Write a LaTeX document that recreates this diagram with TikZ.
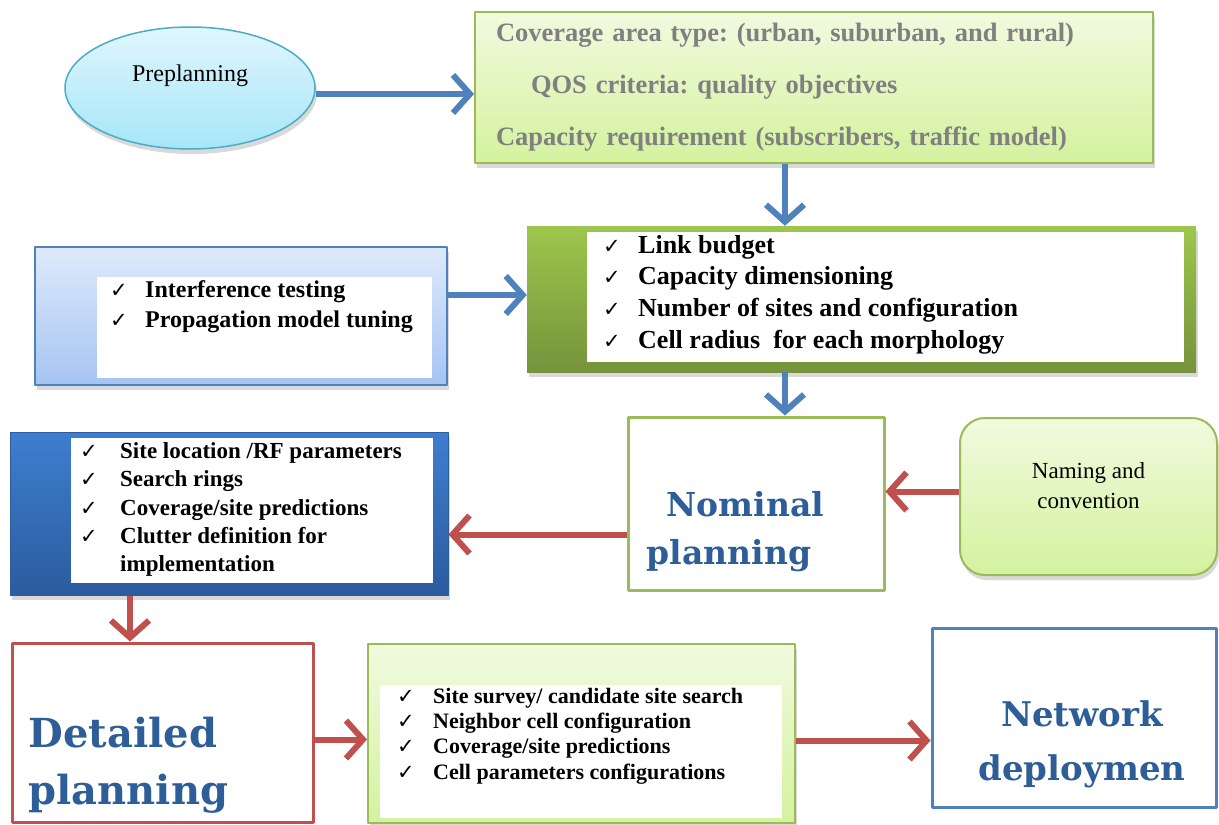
\documentclass[tikz,border=0pt]{standalone}
\usepackage{fontspec}
\setmainfont{Liberation Serif}
\newfontfamily\headfont{DejaVu Serif}
\newfontfamily\ckfont{DejaVu Sans}
\usetikzlibrary{arrows.meta,shapes.geometric,shadows}
\frenchspacing

\definecolor{lgreentop}{HTML}{F1FADF}
\definecolor{lgreenbot}{HTML}{D4F29E}
\definecolor{greenline}{HTML}{9BBB59}
\definecolor{dgreentop}{HTML}{9EC64C}
\definecolor{dgreenbot}{HTML}{76933C}
\definecolor{lbluetop}{HTML}{DEEAFB}
\definecolor{lbluebot}{HTML}{A6C4F2}
\definecolor{bluetop}{HTML}{3E7ECF}
\definecolor{bluebot}{HTML}{2B5C9E}
\definecolor{cyantop}{HTML}{E0F6FD}
\definecolor{cyanbot}{HTML}{A6E6F8}
\definecolor{cyanline}{HTML}{4BACC6}
\definecolor{headblue}{HTML}{2E5E98}
\definecolor{arrowblue}{HTML}{4F81BD}
\definecolor{arrowred}{HTML}{C0504D}
\definecolor{reqgray}{HTML}{808080}

\newcommand\ckmark[1][36pt]{\makebox[#1][l]{\ckfont\fontsize{21}{21}\selectfont ✓}}

\tikzset{
  shade/.style={drop shadow={shadow xshift=2pt, shadow yshift=-5pt, opacity=0.3}},
  box/.style={rectangle, inner sep=0pt},
  softgreen/.style={box, shade, draw=greenline, line width=2pt, top color=lgreentop, bottom color=lgreenbot},
  panel/.style={box, fill=white},
  items/.style={anchor=west, align=left, inner sep=0pt, font=\bfseries},
  heading/.style={align=#1, inner sep=0pt, text=headblue, font=\headfont\bfseries},
  bluearrow/.style={line width=6pt, draw=arrowblue, -{Straight Barb[length=17pt,width=38pt]}},
  redarrow/.style={line width=6pt, draw=arrowred, -{Straight Barb[length=17pt,width=38pt]}}
}

\begin{document}
\begin{tikzpicture}[x=1pt, y=-1pt, line join=round]
  \useasboundingbox (0,0) rectangle (1219,825);
  \coordinate (col) at (785,0);

  \node[ellipse, inner sep=0pt, minimum width=250pt, minimum height=122pt, shade, draw=cyanline, line width=1.5pt, top color=cyantop, bottom color=cyanbot,
    label={[name=pretext, yshift=12pt, font=\fontsize{24}{28}\selectfont]center:Preplanning}] (pre) at (190,88) {};

  \node[softgreen, minimum width=678pt, minimum height=151pt, text width=636pt, align=left, text=reqgray,
    font=\fontsize{26.5}{52}\selectfont\bfseries] (req) at (814,87.5)
    {Coverage area type: (urban, suburban, and rural)\\
     \hspace*{35pt}QOS criteria: quality objectives\\
     Capacity requirement (subscribers, traffic model)};

  \node[box, shade, top color=dgreentop, bottom color=dgreenbot, minimum width=669pt, minimum height=146pt] (dim) at (861.5,299) {};
  \node[panel, minimum width=597pt, minimum height=130pt] (dimpanel) at (885.5,297) {};
  \node[items, font=\fontsize{26}{31.7}\selectfont\bfseries] (dimlist) at (603,294.5)
    {\ckmark[35pt]Link budget\\ \ckmark[35pt]Capacity dimensioning\\ \ckmark[35pt]Number of sites and configuration\\ \ckmark[35pt]Cell radius\ \ for each morphology};

  \node[box, shade, draw=arrowblue, line width=2pt, top color=lbluetop, bottom color=lbluebot, minimum width=412pt, minimum height=138pt] (tune) at (241,316) {};
  \node[panel, minimum width=335pt, minimum height=101pt] (tunepanel) at (264.5,327.5) {};
  \node[items, font=\fontsize{24}{30}\selectfont\bfseries] (tunelist) at (110,307)
    {\ckmark[35pt]Interference testing\\ \ckmark[35pt]Propagation model tuning};

  \node[box, draw=greenline, line width=3pt, fill=white, minimum width=256pt, minimum height=173pt,
    label={[name=nomtext, heading=left, anchor=west, xshift=20pt, yshift=-28pt, font=\headfont\bfseries\fontsize{33}{48}\selectfont]west:\hspace*{20pt}Nominal\\planning}] (nom) at (756,503.5) {};

  \node[box, shade, rounded corners=25pt, draw=greenline, line width=2pt, top color=lgreentop, bottom color=lgreenbot, minimum width=257pt, minimum height=157pt,
    label={[name=namtext, align=center, yshift=11pt, font=\fontsize{23}{30}\selectfont]center:Naming and\\convention}] (nam) at (1088.5,496.5) {};

  \node[box, shade, draw=bluebot, line width=1pt, top color=bluetop, bottom color=bluebot, minimum width=438pt, minimum height=163pt] (loc) at (229,513.5) {};
  \node[panel, minimum width=362pt, minimum height=145pt] (locpanel) at (252,510.5) {};
  \node[items, font=\fontsize{23}{28.2}\selectfont\bfseries] (loclist) at (80,509.5)
    {\ckmark[40pt]Site location /RF parameters\\ \ckmark[40pt]Search rings\\ \ckmark[40pt]Coverage/site predictions\\
     \ckmark[40pt]Clutter definition for\\ \hspace*{40pt}implementation};

  \node[box, draw=arrowred, line width=3pt, fill=white, minimum width=301pt, minimum height=179pt,
    label={[name=dettext, heading=left, anchor=west, xshift=18pt, yshift=-33pt, font=\headfont\bfseries\fontsize{40}{57}\selectfont]west:Detailed\\planning}] (det) at (162.5,732.5) {};

  \node[softgreen, minimum width=427pt, minimum height=179pt] (sur) at (581.5,733.5) {};
  \node[panel, minimum width=402pt, minimum height=133pt] (surpanel) at (581,751.5) {};
  \node[items, font=\fontsize{22}{25.2}\selectfont\bfseries] (surlist) at (397,736)
    {\ckmark Site survey/ candidate site search\\ \ckmark Neighbor cell configuration\\ \ckmark Coverage/site predictions\\ \ckmark Cell parameters configurations};

  \node[box, draw=arrowblue, line width=3pt, fill=white, minimum width=284pt, minimum height=179pt,
    label={[name=nettext, heading=center, xshift=8pt, yshift=-27pt, font=\headfont\bfseries\fontsize{34}{54}\selectfont]center:Network\\deploymen}] (net) at (1074,717.5) {};

  \draw[bluearrow] (pre.east |- 0,94) -- (req.west |- 0,94);
  \draw[bluearrow] (req.south -| col) -- (dim.north -| col);
  \draw[bluearrow] ([yshift=21pt]tune.east) coordinate (tunep) -- (tunep -| dim.west);
  \draw[bluearrow] (dim.south -| col) -- (nom.north -| col);
  \draw[redarrow] ([yshift=5pt]nam.west) coordinate (namp) -- (namp -| nom.east);
  \draw[redarrow] ([yshift=-31pt]nom.west) coordinate (nomp) -- (nomp -| loc.east);
  \draw[redarrow] ([xshift=-99pt]loc.south) coordinate (locp) -- (locp |- det.north);
  \draw[redarrow] ([yshift=-7pt]det.east) coordinate (detp) -- (detp -| sur.west);
  \draw[redarrow] ([yshift=-7pt]sur.east) coordinate (surp) -- (surp -| net.west);
\end{tikzpicture}
\end{document}
